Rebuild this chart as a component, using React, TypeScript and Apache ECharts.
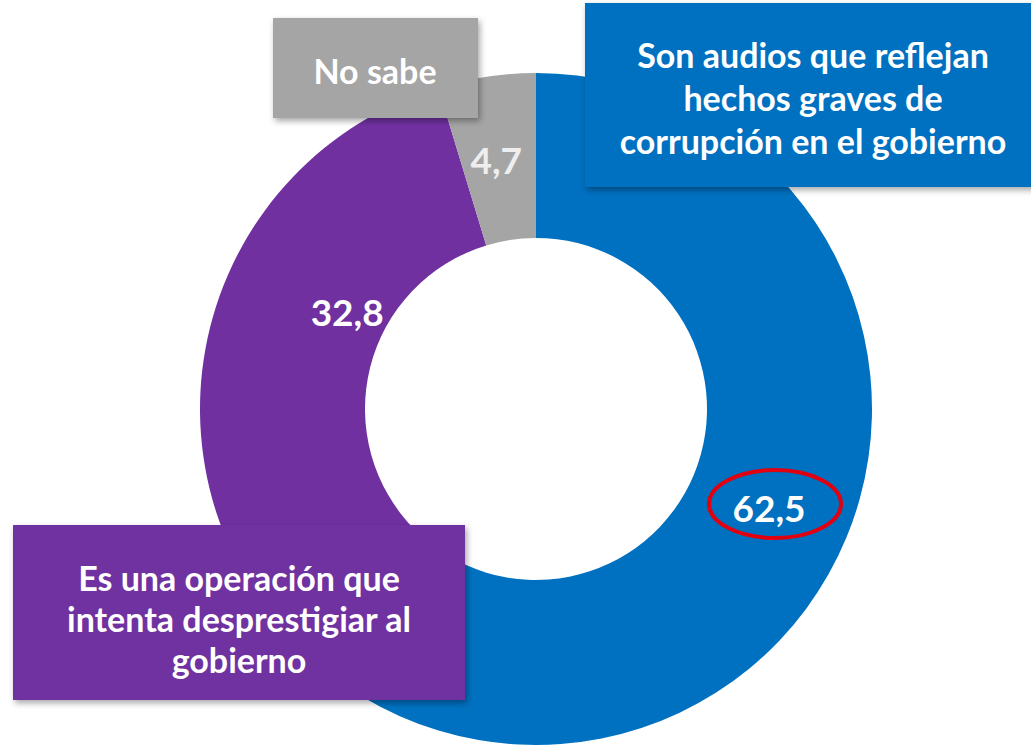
import React, { useEffect, useRef } from "react";
import * as echarts from "echarts";

const categories = [
  "Son audios que reflejan hechos graves de corrupción en el gobierno",
  "Es una operación que intenta desprestigiar al gobierno",
  "No sabe",
];
const values = [62.5, 32.8, 4.7];
const valueLabels = ["62,5", "32,8", "4,7"];
const boxLines = [
  ["Son audios que reflejan", "hechos graves de", "corrupción en el gobierno"],
  ["Es una operación que", "intenta desprestigiar al", "gobierno"],
  ["No sabe"],
];
const colors = ["#0070C0", "#7030A0", "#A5A5A5"];

const FONT = "Lato, 'Open Sans', sans-serif";

export default function App() {
  const ref = useRef<HTMLDivElement>(null);
  useEffect(() => {
    if (!ref.current) return;
    const chart = echarts.init(ref.current, undefined, { renderer: "svg" });
    const labelOffsets = [[-4, 0], [60, -35], [-2, 4]];
    const labelColors = ["#ffffff", "#ffffff", "#eeeeee"];
    const shadow = {
      shadowBlur: 6,
      shadowOffsetX: 2,
      shadowOffsetY: 3,
      shadowColor: "rgba(0,0,0,0.35)",
    };
    const box = (
      x: number, y: number, w: number, h: number, fill: string,
      lines: string[], cx: number, cy: number, lh: number, fs: number
    ) => ({
      type: "group",
      z: 100,
      children: [
        { type: "rect", z: 100, shape: { x, y, width: w, height: h }, style: { fill, ...shadow } },
        {
          type: "text",
          z: 101,
          x: cx,
          y: cy,
          style: {
            text: lines.join("\n"),
            fill: "#ffffff",
            font: `bold ${fs}px ${FONT}`,
            lineHeight: lh,
            align: "center",
            verticalAlign: "middle",
          },
        },
      ],
    });
    chart.setOption({
      animation: false,
      backgroundColor: "#ffffff",
      series: [
        {
          type: "pie",
          center: [536, 409],
          radius: [171, 336],
          startAngle: 90,
          clockwise: true,
          silent: true,
          label: { show: true, position: "inside" },
          labelLine: { show: false },
          data: categories.map((name, i) => ({
            name,
            value: values[i],
            itemStyle: { color: colors[i] },
            label: {
              formatter: valueLabels[i],
              color: labelColors[i],
              fontFamily: FONT,
              fontWeight: "bold",
              fontSize: 37,
              offset: labelOffsets[i],
            },
          })),
        },
      ],
      graphic: [
        box(585, 3, 460, 184, colors[0], boxLines[0], 813, 97, 43, 34),
        box(13, 525, 452, 175, colors[1], boxLines[1], 239, 618, 41, 34),
        box(273, 18, 205, 100, colors[2], boxLines[2], 375, 70, 40, 34),
        {
          type: "ellipse",
          z: 120,
          shape: { cx: 775, cy: 504, rx: 66, ry: 34 },
          style: { fill: "none", stroke: "#E00010", lineWidth: 4 },
        },
      ],
    });
    return () => chart.dispose();
  }, []);
  return (
    <div
      ref={ref}
      style={{ position: "fixed", left: 0, top: 0, width: 1031, height: 748 }}
    />
  );
}
